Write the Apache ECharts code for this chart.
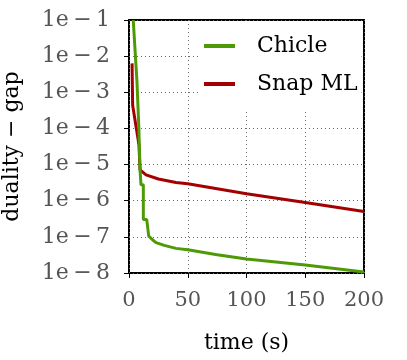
<!DOCTYPE html>
<html>
<head>
<meta charset="utf-8">
<script src="https://cdn.jsdelivr.net/npm/echarts@6/dist/echarts.min.js"></script>
<style>
  html, body { margin: 0; padding: 0; background: #fff; }
  #chart { width: 407px; height: 360px; }
</style>
</head>
<body>
<div id="chart"></div>
<script>
// duality gap vs time
const chicleTime = [3.6, 6.8, 8.3, 9.4, 10.2, 12.2, 12.2, 15.1, 16.8, 20, 23, 30, 40, 50, 75, 100, 150, 200]
const chicleGap = [1e-1, 1.9e-3, 1.23e-4, 7.1e-6, 2.75e-6, 2.75e-6, 3.0e-7, 3.0e-7, 1.05e-7, 8.3e-8, 6.9e-8, 5.8e-8, 4.8e-8, 4.4e-8, 3.2e-8, 2.45e-8, 1.66e-8, 1.07e-8]
const snapTime = [2.6, 3.1, 8.5, 9.4, 10.8, 14.5, 25, 40, 50, 100, 150, 200]
const snapGap = [6.3e-3, 4.4e-4, 3.5e-5, 7.1e-6, 6.3e-6, 5.2e-6, 4.0e-6, 3.2e-6, 2.95e-6, 1.55e-6, 8.9e-7, 5.0e-7]
const xTicks = [0, 50, 100, 150, 200]

const font = 'DejaVu Serif'
const chart = echarts.init(document.getElementById('chart'))

const pairs = (xs, ys) => xs.map((x, i) => [x, ys[i]])

const option = {
  animation: false,
  grid: {
    left: 129,
    right: 43,
    top: 20,
    bottom: 87,
    outerBoundsMode: 'none',
    show: true,
    borderColor: '#000',
    borderWidth: 2
  },
  legend: {
    left: 198,
    top: 22,
    orient: 'vertical',
    itemWidth: 31,
    itemHeight: 4,
    itemGap: 12,
    backgroundColor: '#fff',
    padding: [11, 4, 12, 6],
    icon: 'rect',
    textStyle: { fontFamily: font, fontSize: 22, color: '#000', lineHeight: 26, padding: [0, 0, 0, 17] },
    data: ['Chicle', 'Snap ML']
  },
  xAxis: {
    type: 'value',
    min: xTicks[0],
    max: xTicks[xTicks.length - 1],
    interval: 50,
    name: 'time (s)',
    nameLocation: 'middle',
    nameGap: 59,
    nameTextStyle: { fontFamily: font, fontSize: 22, color: '#000' },
    axisLine: { show: false },
    axisTick: { show: true, length: 5, lineStyle: { color: '#000', width: 1 } },
    axisLabel: { fontFamily: font, fontSize: 21, color: '#555', margin: 17 },
    splitLine: { show: true, lineStyle: { color: '#666', type: [1, 3], width: 1 } }
  },
  yAxis: {
    type: 'log',
    logBase: 10,
    min: 1e-8,
    max: 1e-1,
    name: 'duality − gap',
    nameLocation: 'middle',
    nameGap: 106,
    nameTextStyle: { fontFamily: font, fontSize: 22, color: '#000' },
    axisLine: { show: false },
    axisTick: { show: true, length: 5, lineStyle: { color: '#000', width: 1 } },
    axisLabel: {
      fontFamily: font,
      fontSize: 22,
      color: '#555',
      margin: 19,
      formatter: v => '1e\u2009−\u2009' + Math.abs(Math.round(Math.log10(v)))
    },
    splitLine: { show: true, lineStyle: { color: '#666', type: [1, 3], width: 1 } }
  },
  series: [
    {
      name: 'Chicle',
      type: 'line',
      data: pairs(chicleTime, chicleGap),
      showSymbol: false,
      clip: true,
      color: '#4e9a06',
      lineStyle: { width: 3, color: '#4e9a06' },
      z: 3
    },
    {
      name: 'Snap ML',
      type: 'line',
      data: pairs(snapTime, snapGap),
      showSymbol: false,
      clip: true,
      color: '#a40000',
      lineStyle: { width: 3, color: '#a40000' },
      z: 2
    }
  ]
}
chart.setOption(option)
</script>
</body>
</html>
